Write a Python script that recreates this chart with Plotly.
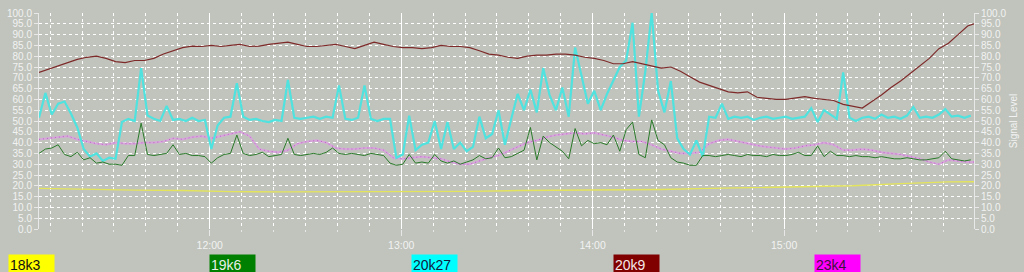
import pandas as pd
import plotly.graph_objects as go

# ---------------- data ----------------
START = "2000-01-01 11:06:30"

# 18k3 (yellow), 15-minute samples
y18k3 = [18.8, 18.3, 18.0, 17.8, 17.3, 17.2, 17.2, 17.2, 17.2, 17.4, 17.8, 18.0,
         18.0, 18.3, 18.8, 19.2, 19.5, 20.0, 21.0, 21.8, 22.0]

# 20k9 (dark red), 3-minute samples
y20k9 = [72.5, 74, 75.5, 77, 78.5, 79.5, 80, 79, 77.5, 77, 78, 78, 79, 81, 82.5, 84, 84.7,
         84.5, 85, 84.5, 85, 85.5, 84.5, 84.7, 85.5, 86, 86.5, 85.5, 84.5, 84.5, 85, 85.5,
         84.5, 83.5, 85, 86.5, 85.5, 84.5, 84, 84, 83.5, 84, 85, 84.5, 84.5, 84, 82.5, 81,
         80.5, 79.5, 79, 80, 80.5, 80.5, 81, 81, 80.5, 79.5, 79, 78, 76.5, 76.5, 77.5, 76.5,
         75.5, 74.5, 75, 73, 70.5, 68, 66.5, 65, 63.5, 63, 63.5, 61, 60.5, 60, 60, 60.5, 61.3,
         60.5, 60, 59.5, 57.7, 57, 56, 59, 62, 65.5, 68.5, 72, 75.5, 79, 83.5, 86, 90, 94, 95.5]

# 23k4 (magenta), 3-minute samples
y23k4 = [41.5, 42, 42.5, 43, 41.5, 40.5, 39.5, 39, 40, 39.5, 39.5, 40, 40, 40.5, 42, 41.5,
         42.5, 43, 42, 43, 44, 45, 43, 37, 36, 35.5, 36.5, 39.5, 40.5, 41, 40, 37.5, 37, 37,
         37.5, 37.5, 36.5, 33, 32.5, 33, 33.5, 33, 32.5, 31, 30, 30, 31.5, 33, 34, 36, 38, 40,
         41, 42.5, 43.5, 44, 44.5, 44, 44.5, 43.5, 42.5, 41, 40.5, 40.5, 39, 37, 36, 35, 35,
         35.5, 39.5, 41, 41.5, 40.5, 39.5, 38.7, 38, 37.5, 37, 37.5, 38.5, 39, 40, 39, 36.5,
         36.5, 37, 36.5, 35.5, 35, 34.5, 33.5, 32.5, 31, 30, 32, 31.5, 31, 31]

# 19k6 (green), 2-minute samples
y19k6 = [35, 37, 37.5, 39, 34.5, 33.5, 35.5, 32, 33, 30.5, 31, 30, 30, 29.5, 34, 34, 49,
         34.5, 34, 34.5, 35, 39, 34.5, 35, 34, 34, 33.5, 30.5, 33, 34.5, 35, 43.5, 35, 34,
         34.5, 35.5, 33.5, 34, 34.5, 42, 34.5, 34, 34.5, 35, 34.5, 35.5, 37.5, 35, 34.5, 35,
         34.5, 34, 35, 34.5, 34, 30.5, 29.5, 30, 34.5, 30.5, 31, 30.5, 34.5, 31.5, 30.5, 31.5,
         30, 31, 32, 34, 32.5, 33, 37.5, 33, 33.5, 35, 36.5, 47, 32, 43, 40, 38, 36, 32.5,
         46.5, 38.5, 41, 39.5, 40, 39, 43.5, 36, 46, 49.5, 34.5, 33, 50.5, 41, 39, 33, 31,
         30.5, 29.5, 29.5, 34, 34, 33.5, 34, 34.5, 34, 33.5, 34.5, 34, 34, 33.5, 34.5, 34, 34,
         34.5, 35.5, 34, 34, 38.5, 33.5, 36, 34, 34, 33.5, 34, 33.5, 33.5, 33, 33.5, 33, 32.5,
         32.5, 33, 32.5, 32, 32, 32.5, 33, 36, 32.5, 32, 31.5, 32]

# 20k27 (cyan), 2-minute samples
y20k27 = [51.5, 63, 53, 58, 59, 53.5, 47, 37, 33.5, 35, 31.5, 33, 32.5, 49.5, 51, 50, 74.5,
          52.5, 51, 50, 57, 50.5, 51, 50, 51.5, 50, 50.5, 37, 48, 51.5, 52, 67.5, 52, 50.5,
          51, 50, 49.5, 50.5, 50, 69, 51.5, 51, 51.5, 52, 51, 52, 51.5, 66.5, 51, 50.5, 51.5,
          66.5, 51, 50, 51, 51, 33, 34.5, 52.5, 36.5, 39, 40, 50, 37, 49.5, 37, 40, 36, 38,
          52, 42, 44, 55, 39, 51, 62.5, 55, 64.5, 54, 74.5, 62, 55, 65.5, 52, 84, 71.5, 58,
          64, 55, 62.5, 68.5, 75, 78, 95.5, 52, 73, 100, 64, 54, 68.5, 42, 37, 34.5, 41, 33.5,
          52, 51.5, 58, 51, 52, 51.5, 52, 50.5, 51.5, 52, 51, 51.5, 52, 51, 51.5, 52, 56,
          49.5, 55, 53, 51, 72.5, 51.5, 50, 51.5, 52, 51, 53, 51.5, 52, 51, 52.5, 56.5, 51.5,
          52, 51.5, 53, 55.5, 52, 52.5, 51.5, 52.5]

series_names = ["18k3", "19k6", "20k27", "20k9", "23k4"]
series_colors = ["#ffff00", "#008000", "#00ffff", "#800000", "#ff00ff"]
label_colors = ["#111111", "#e8f0e8", "#102040", "#f4e8e8", "#401040"]

y_ticks = [i * 5 for i in range(21)]
x_tick_labels = ["12:00", "13:00", "14:00", "15:00"]
x_tick_times = ["2000-01-01 12:00", "2000-01-01 13:00", "2000-01-01 14:00", "2000-01-01 15:00"]


def times(n, step):
    return pd.date_range(START, periods=n, freq=step)


BG = "#c0c4bc"
TXT = "#f2f2f2"
FONT = "Liberation Sans, Arial, sans-serif"

fig = go.Figure()
fig.add_trace(go.Scatter(x=times(len(y23k4), "3min"), y=y23k4, mode="lines",
                         line=dict(color="#d6a8da", width=2.2), name="23k4"))
fig.add_trace(go.Scatter(x=times(len(y23k4), "3min"), y=y23k4, mode="lines",
                         line=dict(color="#c060c8", width=1, dash="1px,3px"), name="23k4",
                         showlegend=False))
fig.add_trace(go.Scatter(x=times(len(y20k27), "2min"), y=y20k27, mode="lines",
                         line=dict(color="#50e2de", width=2.2), name="20k27"))
fig.add_trace(go.Scatter(x=times(len(y19k6), "2min"), y=y19k6, mode="lines",
                         line=dict(color="#2a7a2a", width=1), name="19k6"))
fig.add_trace(go.Scatter(x=times(len(y20k9), "3min"), y=y20k9, mode="lines",
                         line=dict(color="#7e2a2a", width=1.2), name="20k9"))
fig.add_trace(go.Scatter(x=times(len(y18k3), "15min"), y=y18k3, mode="lines",
                         line=dict(color="#e4e45c", width=1.4), name="18k3"))
# invisible trace to bind the right-hand axis
fig.add_trace(go.Scatter(x=[x_tick_times[0]], y=[0], yaxis="y2", mode="markers",
                         marker=dict(opacity=0), showlegend=False, hoverinfo="skip"))

yaxis_common = dict(
    range=[0, 100], tickvals=y_ticks, ticktext=[f"{v:.1f}" for v in y_ticks],
    ticks="outside", ticklen=4, tickcolor="#e8e8e8", showline=True, linecolor="#e8e8e8",
    linewidth=1, tickfont=dict(family=FONT, size=10, color=TXT), zeroline=False,
    fixedrange=True,
)

fig.update_layout(
    width=1024, height=272,
    margin=dict(l=31, r=44, t=7, b=43),
    paper_bgcolor=BG, plot_bgcolor=BG,
    showlegend=False,
    xaxis=dict(
        range=["2000-01-01 11:06:30", "2000-01-01 15:59:30"],
        tickvals=x_tick_times, ticktext=x_tick_labels,
        showgrid=True, gridcolor="#ffffff", gridwidth=1,
        ticks="outside", ticklen=6, tickcolor="#e8e8e8",
        tickfont=dict(family=FONT, size=10.5, color=TXT),
        minor=dict(dtick=600000, tick0="2000-01-01 12:00", showgrid=True,
                   gridcolor="#ffffff", griddash="dot", gridwidth=1,
                   ticks="outside", ticklen=2, tickcolor="#e8e8e8"),
        showline=False, zeroline=False,
    ),
    yaxis=dict(**yaxis_common, showgrid=True, gridcolor="#ffffff", griddash="dot",
               gridwidth=1, side="left"),
    yaxis2=dict(**yaxis_common, overlaying="y", side="right", showgrid=False,
                title=dict(text="Signal Level", font=dict(family=FONT, size=10, color=TXT),
                           standoff=4)),
)

# coloured legend boxes along the bottom
box_left_px = [0, 204, 409, 614, 818]
plot_left, plot_w, plot_bottom, plot_h = 31, 949, 229, 222
for name, col, tcol, px in zip(series_names, series_colors, label_colors, box_left_px):
    fig.add_annotation(
        x=(px - plot_left) / plot_w, y=(plot_bottom - 255) / plot_h,
        xref="paper", yref="paper", xanchor="left", yanchor="top",
        text=name, showarrow=False, align="left",
        bgcolor=col, width=43, height=18, borderpad=1,
        font=dict(family=FONT, size=14, color=tcol),
    )

fig.write_html("out.html")
